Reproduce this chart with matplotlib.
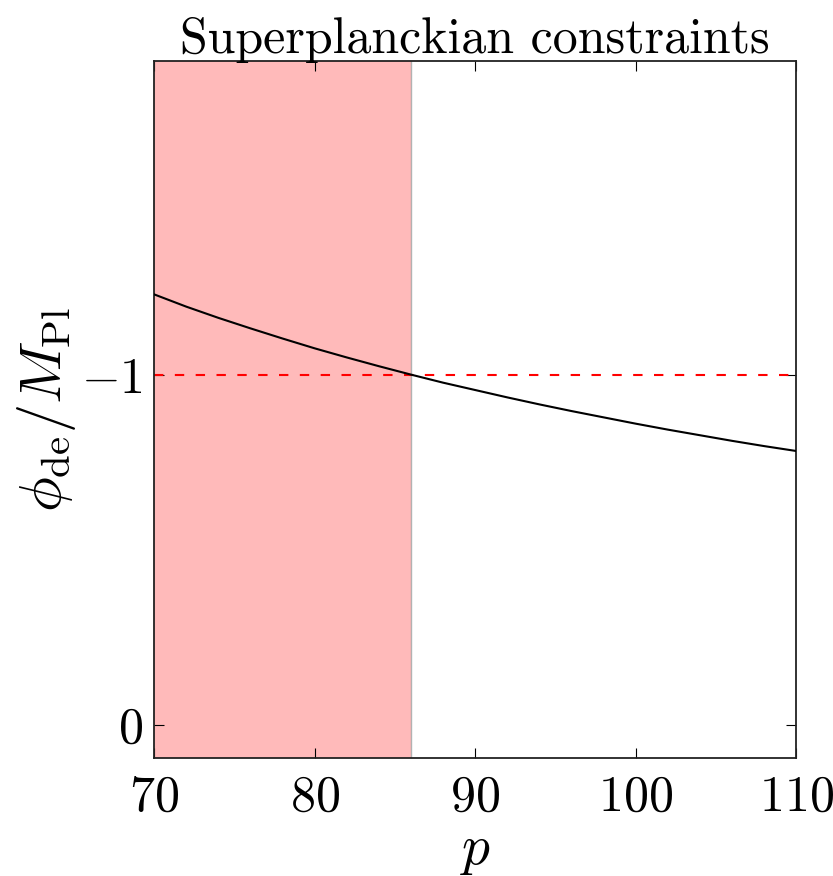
#!/usr/bin/env python3
"""Superplanckian constraints: phi_de / M_Pl against p."""

import matplotlib

matplotlib.use("Agg")

import matplotlib.pyplot as plt
import numpy as np


# values
p_values = np.array([70, 72, 74, 76, 78, 80, 82, 84, 86, 88, 90,
                     92, 94, 96, 98, 100, 102, 104, 106, 108, 110])
phi_de = np.array([-1.229, -1.194, -1.162, -1.132, -1.103, -1.075, -1.049,
                   -1.024, -1.000, -0.977, -0.956, -0.935, -0.915, -0.896,
                   -0.878, -0.860, -0.843, -0.827, -0.811, -0.796, -0.782])
p_excluded = (70.0, 86.0)
phi_bound = -1.0
x_ticks = [70, 80, 90, 100, 110]
y_ticks = [-1, 0]

plt.rcParams["font.family"] = "serif"
plt.rcParams["font.serif"] = ["cmr10", "DejaVu Serif"]
plt.rcParams["mathtext.fontset"] = "cm"
plt.rcParams["axes.formatter.use_mathtext"] = True
plt.rcParams["axes.unicode_minus"] = True

fig = plt.figure(figsize=(8.33, 8.76), dpi=100)
ax = fig.add_axes([0.185, 0.1347, 0.771, 0.7953])

ax.axvspan(*p_excluded, facecolor="red", alpha=0.27, edgecolor="none", zorder=0)
ax.axvline(p_excluded[1], color="gray", lw=1.0, alpha=0.6, zorder=1)
ax.axhline(phi_bound, color="red", lw=1.5, dashes=(4.5, 5.5), zorder=2)
ax.plot(p_values, phi_de, color="black", lw=1.5, zorder=3)

ax.set_xlim(70, 110)
ax.set_ylim(0.094, -1.894)
ax.set_xticks(x_ticks)
ax.set_yticks(y_ticks)
ax.tick_params(direction="in", top=True, right=True, length=7, width=0.8,
               labelsize=36)
ax.tick_params(axis="x", pad=12)
ax.tick_params(axis="y", pad=8)
for spine in ax.spines.values():
    spine.set_linewidth(1.3)
    spine.set_color("#222222")

ax.set_xlabel(r"$p$", fontsize=40, va="baseline")
ax.xaxis.set_label_coords(0.5, -0.152)
ax.set_ylabel(r"$\phi_{\rm de}/M_{\rm Pl}$", fontsize=42, labelpad=2)
ax.set_title("Superplanckian constraints", fontsize=36, pad=6)

fig.savefig("out.png", dpi=100, facecolor="white")
